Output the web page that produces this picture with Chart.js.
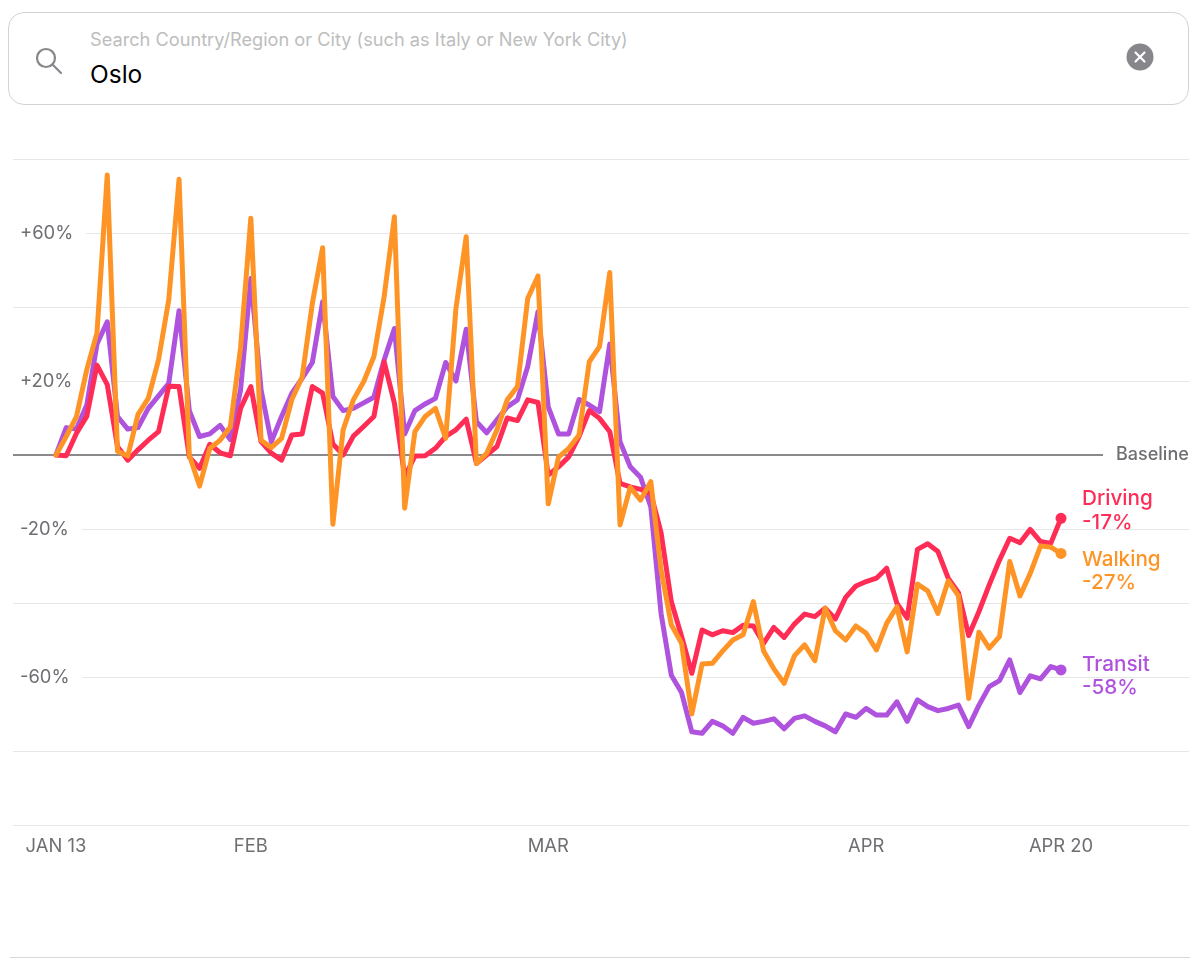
<!DOCTYPE html>
<html>
<head>
<meta charset="utf-8">
<title>Oslo</title>
<script src="https://cdn.jsdelivr.net/npm/chart.js@4"></script>
<style>
html,body{margin:0;padding:0;background:#fff;font-family:Inter,"Liberation Sans",sans-serif;overflow:hidden}
#page{position:relative;width:1200px;height:974px}
#chart{position:absolute;left:0;top:0}
#search{position:absolute;left:8px;top:12px;width:1179px;height:91px;border:1.5px solid #d2d2d7;border-radius:16px;background:#fff}
#hint{position:absolute;left:90px;top:28px;font-size:18.2px;line-height:22px;color:#bdbdbd;white-space:nowrap}
#city{position:absolute;left:90px;top:59px;font-size:24.5px;line-height:30px;color:#000}
#lens{position:absolute;left:34px;top:46px}
#clear{position:absolute;left:1126px;top:43px}
#rule{position:absolute;left:10px;top:957px;width:1180px;height:1px;background:#d8d8dc}
</style>
</head>
<body>
<div id="page">
<canvas id="chart" width="1200" height="974"></canvas>
<div id="search"></div>
<svg id="lens" width="30" height="30" viewBox="0 0 30 30" fill="none" stroke="#86868b" stroke-width="2.2" stroke-linecap="round"><circle cx="12" cy="12" r="9"/><line x1="19" y1="19" x2="27" y2="27"/></svg>
<div id="hint">Search Country/Region or City (such as Italy or New York City)</div>
<div id="city">Oslo</div>
<svg id="clear" width="28" height="28" viewBox="0 0 28 28"><circle cx="14" cy="14" r="13.5" fill="#86868b"/><path d="M9.5 9.5L18.5 18.5M18.5 9.5L9.5 18.5" stroke="#fff" stroke-width="2.2" stroke-linecap="round"/></svg>
<div id="rule"></div>
</div>
<script>
/* ---------------- DATA ---------------- */

const walking = [0,5,10.4,23,33,75.7,1,-0.3,11,15.3,25.7,42,74.5,0,-8.4,1.8,4,7.6,29,64,4,2,4.5,15,21,41,56,-18.7,6.8,14.9,19.8,26.6,42.8,64.4,-14.4,6.3,10.4,12.6,4.5,39.6,59,-2.3,0.5,6.8,14.9,18.5,42.3,48.4,-13.2,-0.6,1.8,5.4,25.2,29.3,49.3,-18.9,-8.7,-12.2,-7.2,-31,-45.9,-50.9,-70,-56.5,-56.3,-53,-50,-48.6,-39.6,-53,-57.8,-61.7,-54.3,-51.3,-55.6,-41.4,-47.5,-50,-46.2,-48.2,-52.7,-45.5,-41,-53.2,-34.9,-36.7,-42.8,-34,-38.1,-65.8,-47.9,-52.2,-49.1,-28.8,-38.1,-32,-24.6,-24.9,-26.6]
const driving = [0,-0.2,5.9,10.4,24.3,19,2.3,-1.4,1.4,4,6.3,18.6,18.5,-0.5,-3.6,2.9,0.6,-0.2,12.6,18.5,3.6,0.5,-1.4,5.4,5.7,18.5,16.7,3,0,5.1,7.7,10.4,25.2,14,-5.9,-0.3,-0.2,1.8,5,6.8,9.7,-2.3,0,2.3,10,9.3,14.9,14.2,-5.4,-3.2,-0.5,5,12,9.9,6.3,-7.7,-8.6,-9.3,-10.4,-21,-39.6,-49,-59,-47.3,-48.6,-47.5,-48,-46,-46.2,-50.9,-46.6,-49.3,-45.7,-43,-43.7,-41.4,-44.3,-38.5,-35.4,-34.2,-33.3,-30.6,-40.1,-44.1,-25.5,-24,-26.1,-33.3,-37.2,-48.8,-42.3,-35.1,-28.4,-22.5,-23.7,-20.1,-23.4,-23.9,-17.1]
const transit = [0,7.4,7,13.5,30,36,10.4,7,7.4,12.6,16,19.4,39,12,5,5.7,8,4.2,17.6,47.7,17.6,3.6,10.4,16.7,20.7,25,41.4,15.8,12,12.6,14.1,15.6,25.7,34.2,5.7,12,13.8,15.3,25,20,34,9,6,9.5,13,14.9,23.9,38.7,13,5.7,5.7,15,13.5,11.7,30,3.6,-3.2,-6,-14,-42.8,-59.5,-64.2,-74.8,-75.2,-72,-73.2,-75.2,-70.9,-72.5,-72,-71.3,-74,-71.2,-70.5,-72,-73.2,-74.8,-70,-70.9,-68.5,-70.3,-70.3,-66.7,-72,-66.2,-68,-69.1,-68.5,-67.6,-73.4,-67.6,-62.6,-61,-55.4,-64.2,-59.7,-60.5,-57.2,-58.1]

const xTickDays = [0,19,48,79,98]
const xTickLabels = ["JAN 13","FEB","MAR","APR","APR 20"]
const yTickValues = [60,20,-20,-60]
const yTickLabels = ["+60%","+20%","-20%","-60%"]

const seriesNames = ["Walking","Driving","Transit"]
const seriesEnds = ["-27%","-17%","-58%"]
const seriesColors = ["#ff9426","#ff2d55","#af52de"]

/* ---------------- HELPERS ---------------- */

const FONT = "Inter"
const toPoints = arr => arr.map((y,x) => ({x,y}))
const hasYLabel = ctx => yTickValues.includes(ctx.tick.value)

/* ---------------- BASELINE + END LABELS ---------------- */

const annotations = {
id:"annotations",
beforeDatasetsDraw(chart){
const c = chart.ctx
const y = chart.scales.y.getPixelForValue(0)
c.save()
c.strokeStyle = "#636366"
c.lineWidth = 1.5
c.beginPath()
c.moveTo(chart.chartArea.left,y)
c.lineTo(1103,y)
c.stroke()
c.fillStyle = "#6e6e73"
c.font = "500 18px "+FONT
c.textBaseline = "middle"
c.fillText("Baseline",1116,y)
c.restore()
},
afterDatasetsDraw(chart){
const c = chart.ctx
// label rows sit at fixed spots next to the end dots
const rows = [[560,583],[499,523],[665,688]]
c.save()
c.font = "500 20.7px "+FONT
c.textBaseline = "middle"
seriesNames.forEach((name,i)=>{
c.fillStyle = seriesColors[i]
c.fillText(name,1082,rows[i][0])
c.fillText(seriesEnds[i],1082,rows[i][1])
})
c.restore()
}
}

/* ---------------- CHART ---------------- */

const ctx = document.getElementById("chart").getContext("2d")

new Chart(ctx,{
type:"line",
data:{
datasets:[walking,driving,transit].map((arr,i)=>({
label:seriesNames[i],
data:toPoints(arr),
borderColor:seriesColors[i],
backgroundColor:seriesColors[i],
borderWidth:5,
borderJoinStyle:"round",
borderCapStyle:"round",
tension:0,
fill:false,
pointRadius:c => c.dataIndex === arr.length-1 ? 5.5 : 0,
pointBorderWidth:0,
pointHoverRadius:0
}))
},
options:{
responsive:false,
animation:false,
events:[],
layout:{padding:{left:13,right:11,top:159,bottom:109}},
plugins:{legend:{display:false},tooltip:{enabled:false}},
scales:{
x:{
type:"linear",
min:-4.19,
max:110.48,
afterBuildTicks(axis){ axis.ticks = xTickDays.map(value => ({value})) },
afterFit(axis){ axis.height = 40 },
grid:{display:false},
border:{display:false},
ticks:{
autoSkip:false,
maxRotation:0,
padding:2,
color:"#6e6e73",
font:{family:FONT,size:18.4},
callback:v => xTickLabels[xTickDays.indexOf(v)]
}
},
y:{
min:-100,
max:80,
afterFit(axis){ axis.width = 0 },
border:{display:false},
grid:{
drawTicks:false,
lineWidth:1,
color:c => c.tick.value === 0 ? "transparent" : "#e6e6e8"
},
ticks:{
stepSize:20,
mirror:true,
padding:7,
color:"#6e6e73",
font:{family:FONT,size:18.4},
showLabelBackdrop:hasYLabel,
backdropColor:"#fff",
backdropPadding:{left:8,right:13,top:2,bottom:2},
callback:v => {
const i = yTickValues.indexOf(v)
return i < 0 ? "" : yTickLabels[i]
}
}
}
}
},
plugins:[annotations]
})
</script>
</body>
</html>
